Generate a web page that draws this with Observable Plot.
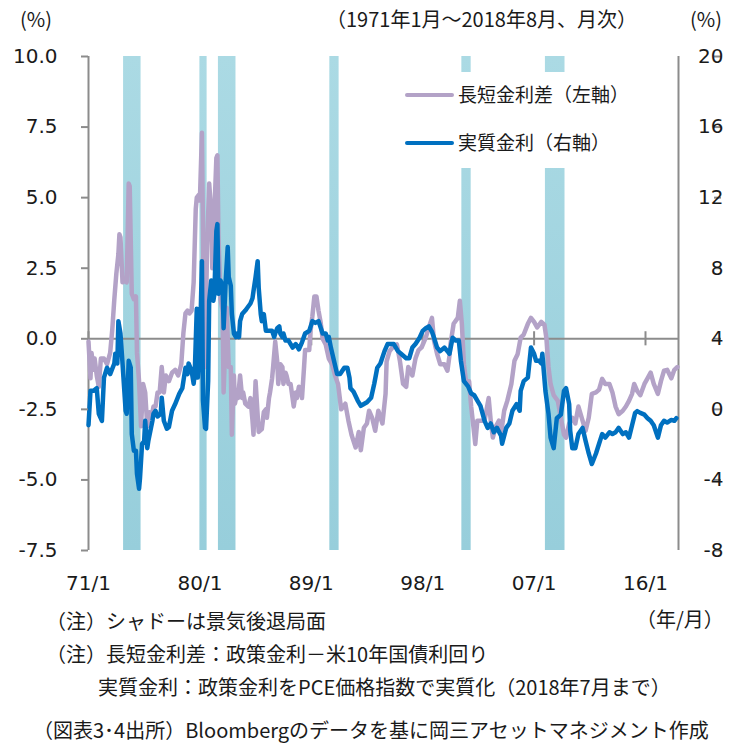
<!DOCTYPE html>
<html>
<head>
<meta charset="utf-8">
<script src="https://cdn.jsdelivr.net/npm/d3@7"></script>
<script src="https://cdn.jsdelivr.net/npm/@observablehq/plot@0.6"></script>
<style>
  html, body { margin: 0; padding: 0; background: white; }
  #wrap { position: relative; width: 742px; height: 745px; overflow: hidden; }
  #wrap svg { position: absolute; left: 0; top: 0; }
  .t { position: absolute; font-family: "Noto Sans CJK JP", sans-serif; font-size: 20px; line-height: 1; color: #1a1a1a; white-space: nowrap; }
  #legend { position: absolute; left: 398px; top: 72px; width: 265px; height: 96px; background: white; }
  .row { position: absolute; left: 0; height: 24px; }
  .sw { position: absolute; left: 7px; width: 49px; height: 4px; border-radius: 2px; }
  .lt { position: absolute; left: 60px; top: 1px; font-family: "Noto Sans CJK JP", sans-serif; font-size: 19px; line-height: 1; color: #1a1a1a; white-space: nowrap; }
</style>
</head>
<body>
<div id="wrap"></div>
<script>
// ---- data ----
const seriesNames = ["長短金利差（左軸）", "実質金利（右軸）"];
const xTickLabels = ["71/1", "80/1", "89/1", "98/1", "07/1", "16/1"];
const xTickDates = ["1971-01", "1980-01", "1989-01", "1998-01", "2007-01", "2016-01"];
const leftTicks = [-7.5, -5, -2.5, 0, 2.5, 5, 7.5, 10];
const rightTicks = [-8, -4, 0, 4, 8, 12, 16, 20];
const recessions = [["1973-11", "1975-03"], ["1980-01", "1980-07"], ["1981-07", "1982-11"],
                    ["1990-07", "1991-03"], ["2001-03", "2001-11"], ["2007-12", "2009-06"]];

// 長短金利差 (left axis, %)
const spread = [
["1971-01",-0.1],["1971-03",-1.4],["1971-04",-0.5],["1971-06",-1.1],["1971-07",-0.7],["1971-09",-1.3],["1971-11",-1.7],
["1972-01",-0.7],["1972-04",-0.7],["1972-07",-0.9],["1972-10",-0.5],["1972-12",0.3],
["1973-02",1.4],["1973-04",2.3],["1973-06",3.0],["1973-07",3.7],["1973-08",3.6],["1973-10",2.0],["1973-12",2.1],
["1974-02",2.0],["1974-04",5.5],["1974-05",5.4],["1974-07",1.6],["1974-09",1.4],["1974-11",1.5],["1974-12",-0.5],
["1975-02",-1.5],["1975-04",-3.1],["1975-06",-1.6],["1975-08",-1.9],["1975-10",-3.1],["1975-12",-2.6],
["1976-02",-2.8],["1976-04",-2.4],["1976-06",-2.4],["1976-08",-1.9],["1976-10",-1.9],["1976-12",-1.0],
["1977-02",-1.9],["1977-04",-1.3],["1977-07",-1.5],["1977-10",-1.2],
["1978-01",-1.1],["1978-04",-1.3],["1978-07",-0.9],["1978-09",0.2],["1978-11",0.9],
["1979-01",1.0],["1979-03",0.9],["1979-05",1.0],["1979-07",2.0],["1979-09",4.6],["1979-10",5.0],["1979-12",5.1],
["1980-01",4.9],["1980-03",7.3],["1980-04",3.9],["1980-05",0.2],["1980-06",-1.0],["1980-08",3.3],["1980-10",5.5],["1980-12",4.5],
["1981-01",2.5],["1981-03",4.4],["1981-05",6.4],["1981-06",6.5],["1981-07",3.7],["1981-09",1.4],["1981-11",1.0],["1981-12",-1.9],
["1982-02",0.2],["1982-03",1.1],["1982-05",-1.0],["1982-07",-1.0],["1982-08",-3.4],["1982-10",-1.3],["1982-11",-2.3],
["1983-01",-1.9],["1983-02",-2.1],["1983-04",-1.3],["1983-06",-2.1],["1983-07",-1.9],["1983-09",-2.3],["1983-12",-2.4],
["1984-02",-2.1],["1984-04",-2.9],["1984-05",-3.4],["1984-07",-1.5],["1984-08",-2.1],["1984-10",-3.3],
["1985-01",-3.2],["1985-03",-2.6],["1985-05",-2.5],["1985-06",-2.8],["1985-08",-2.1],["1985-09",-1.9],["1985-11",-1.4],["1985-12",-1.0],
["1986-02",-0.1],["1986-04",-0.8],["1986-05",-1.6],["1986-07",-0.9],["1986-09",-1.0],["1986-10",-1.6],["1986-12",-1.2],
["1987-01",-1.3],["1987-03",-1.6],["1987-05",-1.6],["1987-08",-2.4],["1987-10",-1.9],["1987-11",-2.1],
["1988-01",-1.7],["1988-03",-1.9],["1988-04",-2.1],["1988-06",-1.0],["1988-07",-0.4],["1988-11",-0.4],["1988-12",0.2],
["1989-02",0.8],["1989-04",1.5],["1989-06",1.5],["1989-08",1.0],["1989-10",0.6],["1989-12",0.0],
["1990-03",-0.2],["1990-06",-0.7],["1990-09",-0.9],["1990-12",-1.3],
["1991-03",-1.6],["1991-06",-2.5],["1991-10",-2.3],
["1992-01",-2.9],["1992-04",-3.4],["1992-08",-3.85],["1992-11",-3.3],
["1993-01",-3.95],["1993-04",-3.15],["1993-07",-3.0],["1993-09",-2.55],["1993-12",-2.8],
["1994-03",-3.26],["1994-06",-2.55],["1994-10",-3.0],
["1995-01",-1.95],["1995-02",-0.8],["1995-05",-0.43],["1995-08",-0.3],["1995-12",-0.2],
["1996-03",-0.8],["1996-06",-1.6],["1996-09",-1.7],["1996-11",-1.0],
["1997-03",-1.3],["1997-06",-0.7],["1997-09",-0.4],["1997-12",-0.3],
["1998-04",0.04],["1998-07",0.4],["1998-10",0.74],["1998-12",-0.07],
["1999-03",-0.53],["1999-06",-0.9],["1999-10",-0.9],
["2000-01",-1.13],["2000-03",-0.6],["2000-04",-0.18],["2000-07",0.53],["2000-11",0.74],
["2001-01",1.35],["2001-03",0.53],["2001-05",-0.9],["2001-07",-1.5],["2001-10",-1.5],["2001-12",-2.4],
["2002-03",-3.37],["2002-04",-3.73],["2002-06",-2.9],["2002-09",-2.9],
["2003-01",-2.9],["2003-04",-2.3],["2003-05",-2.1],["2003-07",-2.9],["2003-09",-3.5],["2003-12",-3.1],
["2004-03",-2.9],["2004-05",-3.37],["2004-08",-2.55],["2004-11",-2.2],
["2005-03",-1.6],["2005-06",-0.78],["2005-09",-0.55],["2005-12",0.04],
["2006-03",0.15],["2006-07",0.53],["2006-10",0.74],
["2007-01",0.6],["2007-04",0.4],["2007-08",0.6],["2007-11",0.5],
["2008-01",0.0],["2008-03",-1.0],["2008-05",-1.6],["2008-08",-2.0],["2008-12",-2.2],
["2009-03",-2.8],["2009-06",-3.4],["2009-08",-3.5],["2009-11",-3.0],
["2010-02",-2.8],["2010-05",-3.0],["2010-08",-2.4],["2010-12",-2.9],
["2011-03",-3.26],["2011-06",-2.8],["2011-09",-1.95],
["2012-01",-1.9],["2012-04",-1.8],["2012-07",-1.42],["2012-10",-1.6],
["2013-02",-1.6],["2013-05",-1.9],["2013-08",-2.4],["2013-11",-2.67],
["2014-03",-2.55],["2014-06",-2.4],["2014-09",-2.2],["2014-12",-1.95],
["2015-02",-1.6],["2015-05",-1.85],["2015-08",-2.0],["2015-12",-1.6],
["2016-03",-1.4],["2016-06",-1.2],["2016-09",-1.6],
["2017-01",-1.95],["2017-04",-1.5],["2017-07",-1.13],["2017-10",-1.1],
["2018-02",-1.4],["2018-05",-1.1],["2018-08",-1.0]
];

// 実質金利 (right axis, %)
const realRate = [
["1971-01",-0.9],["1971-03",1.05],["1971-06",1.05],["1971-09",1.2],["1971-11",-0.25],
["1972-02",-0.65],["1972-04",1.8],["1972-07",2.36],["1972-10",2.0],
["1973-02",2.6],["1973-03",3.15],["1973-05",2.6],["1973-06",5.0],["1973-08",4.3],["1973-10",2.6],
["1974-01",-0.08],["1974-02",-0.25],["1974-04",2.75],["1974-06",2.36],["1974-07",-1.4],["1974-09",-2.35],["1974-11",-2.35],["1974-12",-3.65],
["1975-02",-4.5],["1975-03",-3.9],["1975-05",-1.95],["1975-07",-1.8],["1975-08",-0.65],["1975-10",-2.2],["1975-11",-1.8],
["1976-03",-0.65],["1976-04",-0.25],["1976-06",-0.08],["1976-08",-0.4],["1976-11",-0.25],["1976-12",0.66],
["1977-02",-0.65],["1977-05",-1.1],["1977-07",-1.0],["1977-10",-0.08],
["1978-01",0.3],["1978-05",0.88],["1978-08",1.2],["1978-11",2.36],
["1979-01",2.0],["1979-02",2.6],["1979-05",2.2],["1979-07",1.45],["1979-08",2.0],["1979-10",5.7],["1979-11",1.8],
["1980-01",3.5],["1980-03",8.4],["1980-04",0.5],["1980-06",-1.05],["1980-07",-1.1],["1980-09",1.6],["1980-10",6.15],["1980-12",7.3],
["1981-02",6.15],["1981-03",6.5],["1981-05",10.1],["1981-06",10.5],["1981-07",6.55],["1981-09",7.3],["1981-11",7.0],["1981-12",4.6],
["1982-02",7.3],["1982-04",9.2],["1982-05",7.5],["1982-07",7.0],["1982-08",5.4],["1982-10",4.3],["1982-12",4.1],
["1983-01",4.3],["1983-03",4.1],["1983-04",5.0],["1983-06",5.4],["1983-09",5.6],["1983-11",5.76],
["1984-02",6.0],["1984-04",6.3],["1984-05",6.7],["1984-07",7.5],["1984-09",8.4],["1984-10",6.9],["1984-12",5.4],
["1985-01",5.0],["1985-03",5.4],["1985-05",4.45],["1985-08",4.45],["1985-11",4.45],
["1986-01",4.1],["1986-02",4.3],["1986-04",4.6],["1986-06",4.7],["1986-07",4.3],["1986-09",4.1],["1986-10",4.3],["1986-12",3.9],
["1987-03",3.9],["1987-07",3.5],["1987-10",3.7],
["1988-01",3.4],["1988-04",3.8],["1988-07",4.3],["1988-11",4.45],
["1989-02",5.0],["1989-05",4.9],["1989-08",5.0],["1989-12",4.3],
["1990-03",4.3],["1990-05",3.9],["1990-06",4.1],["1990-08",3.5],["1990-11",2.75],
["1991-02",2.0],["1991-05",2.0],["1991-09",2.36],["1991-12",2.36],
["1992-02",1.8],["1992-03",1.2],["1992-06",1.0],["1992-10",0.5],
["1993-01",0.2],["1993-04",0.3],["1993-07",0.4],["1993-11",0.66],
["1994-02",1.45],["1994-05",2.36],["1994-08",2.6],["1994-12",3.3],
["1995-03",3.7],["1995-06",3.7],["1995-09",3.7],
["1996-01",3.3],["1996-04",3.15],["1996-09",2.9],["1996-12",2.9],
["1997-03",3.5],["1997-06",3.7],["1997-10",4.06],
["1998-01",4.45],["1998-04",4.6],["1998-07",4.7],["1998-10",4.4],["1998-12",4.06],
["1999-03",3.5],["1999-06",3.3],["1999-10",3.5],
["2000-01",3.3],["2000-03",3.15],["2000-06",4.06],["2000-09",3.9],["2000-12",3.9],
["2001-02",2.75],["2001-05",1.6],["2001-09",1.3],["2001-12",0.9],
["2002-03",0.8],["2002-06",0.5],["2002-09",0.2],
["2003-01",-0.65],["2003-04",-1.05],["2003-07",-0.8],["2003-10",-1.3],
["2004-01",-1.05],["2004-05",-1.5],["2004-06",-1.95],["2004-10",-1.05],
["2005-01",-0.8],["2005-04",-0.08],["2005-08",0.3],["2005-11",-0.08],["2005-12",1.05],
["2006-03",1.6],["2006-07",1.8],["2006-10",3.5],
["2007-01",3.15],["2007-03",2.75],["2007-06",2.75],["2007-08",2.6],["2007-09",3.15],["2007-12",1.05],
["2008-03",-0.25],["2008-05",-1.6],["2008-08",-2.2],["2008-11",-0.5],
["2009-03",-0.3],["2009-06",1.05],["2009-08",1.2],["2009-11",0.3],["2009-12",-1.2],
["2010-02",-2.2],["2010-05",-2.2],["2010-08",-1.4],["2010-12",-1.05],
["2011-03",-1.8],["2011-06",-2.5],["2011-09",-3.1],
["2012-01",-2.5],["2012-04",-1.95],["2012-07",-1.4],["2012-10",-1.6],
["2013-02",-1.3],["2013-05",-1.4],["2013-08",-1.3],["2013-11",-1.05],
["2014-03",-1.4],["2014-06",-1.3],["2014-09",-1.6],["2014-12",-0.9],
["2015-03",-0.2],["2015-05",-0.1],["2015-08",-0.2],["2015-12",-0.3],
["2016-03",-0.5],["2016-06",-0.65],["2016-09",-0.9],
["2017-01",-1.6],["2017-04",-0.9],["2017-07",-0.65],["2017-10",-0.75],
["2018-02",-0.6],["2018-05",-0.65],["2018-07",-0.5]
];

// ---- build ----
const parse = s => { const [y, m] = s.split("-").map(Number); return new Date(Date.UTC(y, m - 1, 1)); };
const nextMonth = d => new Date(Date.UTC(d.getUTCFullYear(), d.getUTCMonth() + 1, 1));
const leftDomain = [leftTicks[0], leftTicks[leftTicks.length - 1]];
const rightDomain = [rightTicks[0], rightTicks[rightTicks.length - 1]];
const toLeft = r => leftDomain[0] + (r - rightDomain[0]) * (leftDomain[1] - leftDomain[0]) / (rightDomain[1] - rightDomain[0]);
const toRight = l => rightDomain[0] + (l - leftDomain[0]) * (rightDomain[1] - rightDomain[0]) / (leftDomain[1] - leftDomain[0]);

const xDomain = [parse("1971-01"), parse("2018-09")];
const tickDates = xTickDates.map(parse);
const spreadData = spread.map(([d, v]) => ({date: parse(d), v}));
const realData = realRate.map(([d, v]) => ({date: parse(d), v: toLeft(v)}));
const recData = recessions.map(([a, b]) => ({x1: parse(a), x2: nextMonth(parse(b))}));
const grey = "#8c8c8c";

const chart = Plot.plot({
  width: 742, height: 745,
  marginTop: 56, marginBottom: 195, marginLeft: 88, marginRight: 64,
  style: {fontFamily: "'DejaVu Sans', sans-serif", fontSize: "20px", color: "#1a1a1a", background: "white"},
  x: {type: "utc", domain: xDomain},
  y: {domain: leftDomain},
  marks: [
    Plot.rect(recData, {x1: "x1", x2: "x2", fill: "url(#shade)"}),
    Plot.ruleY([0], {stroke: grey, strokeWidth: 2}),
    Plot.ruleX(tickDates, {y1: () => -0.25, y2: () => 0.25, stroke: grey, strokeWidth: 2}),
    Plot.ruleX(xDomain, {stroke: grey, strokeWidth: 2}),
    Plot.line(spreadData, {x: "date", y: "v", stroke: "#b3a2c7", strokeWidth: 4.5, strokeLinejoin: "round"}),
    Plot.line(realData, {x: "date", y: "v", stroke: "#0070c0", strokeWidth: 4.5, strokeLinejoin: "round"}),
    Plot.axisY({anchor: "left", ticks: leftTicks, tickFormat: d => d.toFixed(1), tickSize: 7, tickPadding: 24,
                stroke: grey, strokeWidth: 2, label: null}),
    Plot.axisY({anchor: "right", ticks: leftTicks, tickFormat: d => String(Math.round(toRight(d))), tickSize: 7,
                tickPadding: 3, textAnchor: "end", dx: 35, stroke: grey, strokeWidth: 2, label: null}),
    Plot.axisX({anchor: "bottom", ticks: tickDates, tickFormat: (d, i) => xTickLabels[i], tickSize: 0,
                tickPadding: 25, label: null})
  ]
});

const defs = d3.select(chart).insert("defs", ":first-child");
const g = defs.append("linearGradient").attr("id", "shade").attr("x1", 0).attr("y1", 0).attr("x2", 0).attr("y2", 1);
g.append("stop").attr("offset", 0).attr("stop-color", "#abdae4");
g.append("stop").attr("offset", 1).attr("stop-color", "#97cedb");

const wrap = document.getElementById("wrap");
wrap.appendChild(chart);

function addText(txt, left, top) {
  const el = document.createElement("div");
  el.className = "t";
  el.textContent = txt;
  el.style.left = left + "px";
  el.style.top = top + "px";
  wrap.appendChild(el);
}
addText("(%)", 20, 9);
addText("（1971年1月～2018年8月、月次）", 326, 9);
addText("(%)", 690, 9);
addText("（注）シャドーは景気後退局面", 46, 611);
addText("（年/月）", 636, 609);
addText("（注）長短金利差：政策金利－米10年国債利回り", 46, 644);
addText("実質金利：政策金利をPCE価格指数で実質化（2018年7月まで）", 98, 677);
addText("（図表3･4出所）Bloombergのデータを基に岡三アセットマネジメント作成", 33, 720);

// legend
const legend = document.createElement("div");
legend.id = "legend";
const colors = ["#b3a2c7", "#0070c0"];
seriesNames.forEach((name, i) => {
  const row = document.createElement("div");
  row.className = "row";
  row.style.top = (11 + i * 48) + "px";
  const sw = document.createElement("div");
  sw.className = "sw";
  sw.style.top = "10px";
  sw.style.background = colors[i];
  const lt = document.createElement("div");
  lt.className = "lt";
  lt.textContent = name;
  row.appendChild(sw);
  row.appendChild(lt);
  legend.appendChild(row);
});
wrap.appendChild(legend);
</script>
</body>
</html>
